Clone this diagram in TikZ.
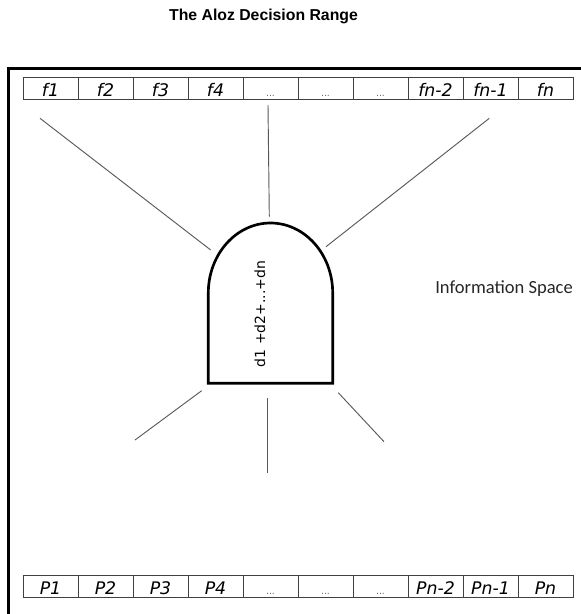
\documentclass[tikz,border=0pt]{standalone}
\usepackage{fontspec}
\setmainfont{Liberation Sans}
\newfontfamily\comicfont{DejaVu Sans}
\newfontfamily\calibfont{Carlito}
\begin{document}
\begin{tikzpicture}[x=0.75pt,y=-0.75pt,
  cellbox/.style={draw=black!75,line width=0.75pt,minimum width=41.25pt,minimum height=16.5pt,
    inner sep=0pt,text height=12pt,text depth=0pt,font=\comicfont\itshape\fontsize{13}{15}\selectfont},
  dotcell/.style={cellbox,font=\comicfont\fontsize{7}{8}\selectfont,text=black!60},
  spoke/.style={draw=black!65,line width=0.7pt},
  frameline/.style={line width=2pt},
  archline/.style={line width=2pt}]
\useasboundingbox (0,0) rectangle (581,614);
% title
\node[anchor=base,inner sep=0pt,font=\bfseries\fontsize{11.85}{14}\selectfont] (title) at (263.5,21) {The Aloz Decision Range};
% frame
\draw[frameline] (8.7,614) -- (8.7,68.7) -- (581,68.7);
% top cells
\node[cellbox] (t1) at (50.5,88) {f1};
\node[cellbox] (t2) at (105.5,88) {f2};
\node[cellbox] (t3) at (160.5,88) {f3};
\node[cellbox] (t4) at (215.5,88) {f4};
\node[dotcell] (t5) at (270.5,88) {...};
\node[dotcell] (t6) at (325.5,88) {...};
\node[dotcell] (t7) at (380.5,88) {...};
\node[cellbox] (t8) at (435.5,88) {fn-2};
\node[cellbox] (t9) at (490.5,88) {fn-1};
\node[cellbox] (t10) at (545.5,88) {fn};
% bottom cells
\node[cellbox] (b1) at (50.5,586) {P1};
\node[cellbox] (b2) at (105.5,586) {P2};
\node[cellbox] (b3) at (160.5,586) {P3};
\node[cellbox] (b4) at (215.5,586) {P4};
\node[dotcell] (b5) at (270.5,586) {...};
\node[dotcell] (b6) at (325.5,586) {...};
\node[dotcell] (b7) at (380.5,586) {...};
\node[cellbox] (b8) at (435.5,586) {Pn-2};
\node[cellbox] (b9) at (490.5,586) {Pn-1};
\node[cellbox] (b10) at (545.5,586) {Pn};
% arch
\draw[archline] (208.3,383.3) -- (208.3,293)
  .. controls (208.3,254.3) and (236.15,223) .. (270.5,223)
  .. controls (304.85,223) and (332.7,254.3) .. (332.7,293)
  -- (332.7,383.3) -- cycle;
\node[rotate=90,inner sep=0pt,font=\comicfont\fontsize{10.5}{12}\selectfont] (sum) at (260,314) {d1 +d2+...+dn};
% info space
\node[anchor=base west,inner sep=0pt,text=black!85,font=\calibfont\fontsize{13.9}{16}\selectfont] (info) at (435,293.3) {Information Space};
% spokes
\coordinate (s1a) at (40,118.3);  \coordinate (s1b) at (210.7,250);
\coordinate (s2a) at (268,105);   \coordinate (s2b) at (269.3,216.7);
\coordinate (s3a) at (489.3,118.3); \coordinate (s3b) at (326,246.7);
\coordinate (s4a) at (201.7,390.7); \coordinate (s4b) at (135,440);
\coordinate (s5a) at (267.7,398.3); \coordinate (s5b) at (267.7,473.3);
\coordinate (s6a) at (338.3,392.7); \coordinate (s6b) at (384,441.7);
\draw[spoke] (s1a) -- (s1b);
\draw[spoke] (s2a) -- (s2b);
\draw[spoke] (s3a) -- (s3b);
\draw[spoke] (s4a) -- (s4b);
\draw[spoke] (s5a) -- (s5b);
\draw[spoke] (s6a) -- (s6b);
\end{tikzpicture}
\end{document}
